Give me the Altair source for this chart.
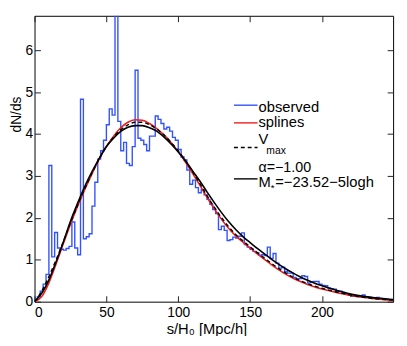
import altair as alt
import pandas as pd

# ---------------- data ----------------
BIN_WIDTH = 2
observed = [
    0.03, 0.12, 0.25, 0.42, 0.65, 3.25, 1.07, 1.65, 1.28, 1.25,   # 0-20
    1.23, 1.27, 1.32, 1.90, 1.28, 1.12, 4.83, 1.50, 1.55, 1.62,   # 20-40
    2.28, 2.85, 3.40, 3.60, 3.85, 4.22, 4.60, 4.45, 7.00, 4.30,   # 40-60
    3.60, 3.80, 3.30, 3.25, 3.70, 5.52, 3.90, 3.85, 3.75, 3.60,   # 60-80
    3.95, 3.95, 4.43, 4.35, 4.25, 4.12, 4.16, 4.07, 3.92, 3.85,   # 80-100
    3.63, 3.45, 3.38, 3.14, 2.80, 2.90, 2.72, 2.60, 2.67, 2.55,   # 100-120
    2.44, 2.32, 2.20, 2.10, 1.72, 1.80, 1.70, 1.46, 1.48, 1.54,   # 120-140
    1.52, 1.56, 1.64, 1.36, 1.30, 1.25, 1.20, 1.17, 1.11, 1.12,   # 140-160
    1.10, 1.30, 1.03, 1.15, 0.92, 0.80, 0.82, 0.72, 0.68, 0.68,   # 160-180
    0.58, 0.55, 0.55, 0.62, 0.60, 0.45, 0.47, 0.48, 0.48, 0.42,   # 180-200
    0.39, 0.38, 0.33, 0.31, 0.30, 0.25, 0.25, 0.22, 0.18, 0.17,   # 200-220
    0.13, 0.13, 0.12, 0.12, 0.16, 0.12, 0.11, 0.09, 0.09, 0.10,   # 220-240
    0.08, 0.06, 0.06, 0.05, 0.04,                                 # 240-250
]

curve_s = [0, 5, 10, 15, 20, 25, 30, 35, 40, 45, 50, 55, 60, 65, 70, 75,
           80, 85, 90, 95, 100, 105, 110, 115, 120, 125, 130, 135, 140,
           145, 150, 155, 160, 165, 170, 175, 180, 185, 190, 195, 200,
           210, 220, 230, 240, 250]
splines = [0.00, 0.12, 0.45, 0.90, 1.38, 1.85, 2.28, 2.68, 3.05, 3.40, 3.70,
           3.95, 4.15, 4.28, 4.34, 4.33, 4.25, 4.13, 3.98, 3.80, 3.58, 3.33,
           3.06, 2.78, 2.49, 2.22, 1.97, 1.75, 1.57, 1.42, 1.28, 1.14, 1.01,
           0.88, 0.76, 0.65, 0.56, 0.48, 0.41, 0.35, 0.30, 0.22, 0.15, 0.10,
           0.06, 0.03]
vmax = [0.00, 0.25, 0.60, 1.00, 1.43, 1.88, 2.30, 2.70, 3.07, 3.40, 3.70,
        3.93, 4.10, 4.22, 4.28, 4.28, 4.22, 4.12, 3.98, 3.80, 3.60, 3.36,
        3.10, 2.82, 2.53, 2.26, 2.01, 1.79, 1.60, 1.45, 1.31, 1.17, 1.04,
        0.91, 0.79, 0.68, 0.58, 0.50, 0.43, 0.37, 0.32, 0.23, 0.16, 0.10,
        0.06, 0.04]
schechter = [0.00, 0.20, 0.52, 0.95, 1.42, 1.92, 2.35, 2.75, 3.10, 3.42, 3.70,
             3.90, 4.06, 4.16, 4.20, 4.20, 4.15, 4.07, 3.93, 3.76, 3.57, 3.36,
             3.12, 2.88, 2.62, 2.37, 2.13, 1.91, 1.72, 1.55, 1.41, 1.27, 1.14,
             1.01, 0.89, 0.78, 0.68, 0.59, 0.51, 0.44, 0.38, 0.27, 0.18, 0.12,
             0.08, 0.05]

legend_texts = ["observed", "splines", "V", "max", "\u03b1=\u22121.00",
                "M", "*", "=\u221223.52\u22125logh"]

X_TICKS = [0, 50, 100, 150, 200]
Y_TICKS = [0, 1, 2, 3, 4, 5, 6]
X_DOMAIN = [0, 249.5]
Y_DOMAIN = [0, 6.82]

# ---------------- tables ----------------
edges = [i * BIN_WIDTH for i in range(len(observed) + 1)]
hist_df = pd.DataFrame({"s": edges, "n": observed + [observed[-1]]})
curves_df = pd.DataFrame({"s": curve_s, "splines": splines,
                          "vmax": vmax, "schechter": schechter})

FONT = "Liberation Sans"
W, H = 365, 291
BLUE = "#3352ff"
RED = "#ee1c1c"

xs = alt.Scale(domain=X_DOMAIN, nice=False, zero=False)
ys = alt.Scale(domain=Y_DOMAIN, nice=False, zero=False)

x_axis = alt.Axis(values=X_TICKS, orient="bottom", offset=-6, tickSize=6,
                  domain=False, grid=False, labelFontSize=14, labelFont=FONT,
                  labelColor="black", labelPadding=4, tickColor="#222",
                  title="s/H\u2080 [Mpc/h]", titleFont=FONT, titleFontSize=15,
                  titleFontWeight="normal", titleColor="black",
                  titleX=175, titlePadding=2)
y_axis = alt.Axis(values=Y_TICKS, orient="left", offset=-6, tickSize=6,
                  domain=False, grid=False, labelFontSize=14, labelFont=FONT,
                  labelColor="black", labelPadding=2, tickColor="#222",
                  title="dN/ds", titleFont=FONT, titleFontSize=14,
                  titleFontWeight="normal", titleColor="black",
                  titleY=100, titlePadding=1)
x_top = alt.Axis(values=X_TICKS, orient="top", offset=-6, tickSize=6,
                 domain=False, grid=False, labels=False, title=None,
                 tickColor="#222")
y_right = alt.Axis(values=Y_TICKS, orient="right", offset=-6, tickSize=6,
                   domain=False, grid=False, labels=False, title=None,
                   tickColor="#222")

hist = alt.Chart(hist_df).mark_line(
    interpolate="step-after", color=BLUE, strokeWidth=1.4, clip=True
).encode(
    x=alt.X("s:Q", scale=xs, axis=x_axis),
    y=alt.Y("n:Q", scale=ys, axis=y_axis),
)

def curve(field, color, dash=None, width=1.6):
    kw = dict(interpolate="monotone", color=color, strokeWidth=width, clip=True)
    if dash:
        kw["strokeDash"] = dash
    return alt.Chart(curves_df).mark_line(**kw).encode(
        x=alt.X("s:Q", scale=xs, axis=None),
        y=alt.Y(f"{field}:Q", scale=ys, axis=None),
    )

red = curve("splines", RED)
dashed = curve("vmax", "black", dash=[4, 3], width=1.4)
black = curve("schechter", "black", width=1.6)

ticks_layer = alt.Chart(hist_df).mark_point(opacity=0).encode(
    x=alt.X("s:Q", scale=xs, axis=x_top),
    y=alt.Y("n:Q", scale=ys, axis=y_right),
)

one = pd.DataFrame({"a": [0]})
LX1, LX2, TX = 203, 227, 228
leg = []
for y, col, dash in [(91, BLUE, None), (109, RED, None),
                     (134, "black", [4, 3]), (166, "black", None)]:
    kw = dict(color=col, strokeWidth=1.4)
    if dash:
        kw["strokeDash"] = dash
    leg.append(alt.Chart(one).mark_rule(**kw).encode(
        x=alt.value(LX1), x2=alt.value(LX2), y=alt.value(y)))

for txt, x, y, size in [(legend_texts[0], TX, 97.5, 15),
                        (legend_texts[1], TX, 113.5, 15),
                        (legend_texts[2], TX, 130, 15),
                        (legend_texts[3], TX + 8, 140.5, 10.5),
                        (legend_texts[4], TX, 158.5, 14.5),
                        (legend_texts[5], TX, 174, 15),
                        (legend_texts[6], TX + 12.5, 178, 10),
                        (legend_texts[7], TX + 17, 174, 15)]:
    leg.append(alt.Chart(one).mark_text(
        align="left", baseline="alphabetic", font=FONT, fontSize=size,
        color="black").encode(x=alt.value(x), y=alt.value(y),
                              text=alt.value(txt)))

chart = alt.layer(hist, red, dashed, black, ticks_layer, *leg).resolve_axis(
    x="independent", y="independent"
).properties(
    width=W, height=H,
    autosize=alt.AutoSizeParams(type="none"),
    padding={"left": 27, "top": 5, "right": 6, "bottom": 32},
).configure_view(stroke="black", strokeWidth=1)

chart.save("out.html", embed_options={"renderer": "svg", "actions": False})
